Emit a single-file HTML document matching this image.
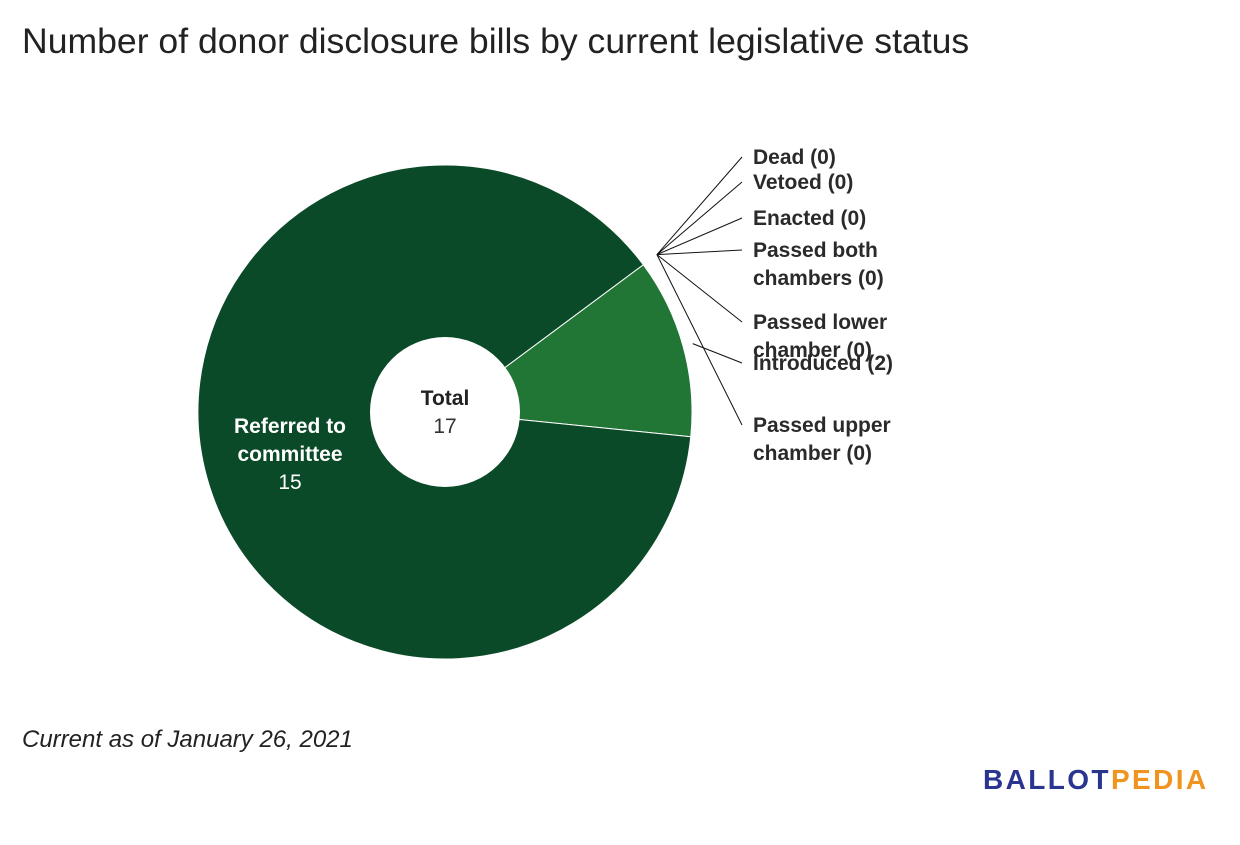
<!DOCTYPE html>
<html><head><meta charset="utf-8"><style>
body{margin:0;background:#fff;width:1240px;height:840px;overflow:hidden;font-family:"Liberation Sans",sans-serif}
</style></head><body>
<svg width="1240" height="840">
<text x="22" y="53" font-size="35.6" fill="#222">Number of donor disclosure bills by current legislative status</text>
<g id="donut"></g>
<g id="labels"></g>
<circle cx="445" cy="412" r="75" fill="#fff"/>
<text x="445" y="405" text-anchor="middle" font-size="21" font-weight="bold" fill="#222">Total</text>
<text id="totalv" x="445" y="433" text-anchor="middle" font-size="21" fill="#333">17</text>
<text x="290" y="433" text-anchor="middle" font-size="21" font-weight="bold" fill="#fff"><tspan x="290">Referred to</tspan><tspan x="290" dy="28">committee</tspan></text>
<text id="refv" x="290" y="489" text-anchor="middle" font-size="21" fill="#fff">15</text>
<text x="22" y="747" font-size="24" font-style="italic" fill="#222">Current as of January 26, 2021</text>
<text x="983" y="789" font-size="28" font-weight="bold" letter-spacing="2.4"><tspan fill="#2a3590">BALLOT</tspan><tspan fill="#f0941f">PEDIA</tspan></text>
</svg>
<script>
const categories=["Dead","Vetoed","Enacted","Passed both chambers","Passed lower chamber","Passed upper chamber","Introduced","Referred to committee"];
const values=[0,0,0,0,0,0,2,15];
const colors=["#0b4a28","#0b4a28","#0b4a28","#0b4a28","#0b4a28","#0b4a28","#217535","#0b4a28"];
const labelLines=[["Dead (0)"],["Vetoed (0)"],["Enacted (0)"],["Passed both","chambers (0)"],["Passed lower","chamber (0)"],["Passed upper","chamber (0)"],["Introduced (2)"]];
const labelY=[157,182,218,250,322,425,363];
const NS="http://www.w3.org/2000/svg";
const cx=445,cy=412,R=247,start=53.4;
const total=values.reduce((a,b)=>a+b,0);
document.getElementById('totalv').textContent=total;
document.getElementById('refv').textContent=values[7];
function pt(a,r){const t=a*Math.PI/180;return [cx+r*Math.sin(t),cy-r*Math.cos(t)];}
let a=start;
const g=document.getElementById('donut'),lg=document.getElementById('labels');
values.forEach((v,i)=>{
  const sw=v/total*360,a0=a,a1=a+sw;a=a1;
  if(v>0){
    const p0=pt(a0,R),p1=pt(a1,R);
    const p=document.createElementNS(NS,'path');
    p.setAttribute('d',`M${cx},${cy}L${p0[0]},${p0[1]}A${R},${R} 0 ${sw>180?1:0} 1 ${p1[0]},${p1[1]}Z`);
    p.setAttribute('fill',colors[i]);p.setAttribute('stroke','#fff');p.setAttribute('stroke-width','1');
    
    
    g.appendChild(p);
  }
  if(i<labelLines.length){
    const mid=(a0+a1)/2;
    const s=v>0?pt(mid,R+10):pt(mid,264);
    const ln=document.createElementNS(NS,'line');
    ln.setAttribute('x1',s[0]);ln.setAttribute('y1',s[1]);ln.setAttribute('x2',742);ln.setAttribute('y2',labelY[i]);
    ln.setAttribute('stroke','#111');ln.setAttribute('stroke-width','1');
    
    
    lg.appendChild(ln);
    const t=document.createElementNS(NS,'text');
    t.setAttribute('font-size','21');t.setAttribute('font-weight','bold');t.setAttribute('fill','#2a2a2a');
    
    
    const y0=labelY[i]+7;
    labelLines[i].forEach((s2,k)=>{const ts=document.createElementNS(NS,'tspan');ts.setAttribute('x',753);ts.setAttribute('y',y0+k*28);ts.textContent=s2;t.appendChild(ts);});
    lg.appendChild(t);
  }
});
</script>
</body></html>
